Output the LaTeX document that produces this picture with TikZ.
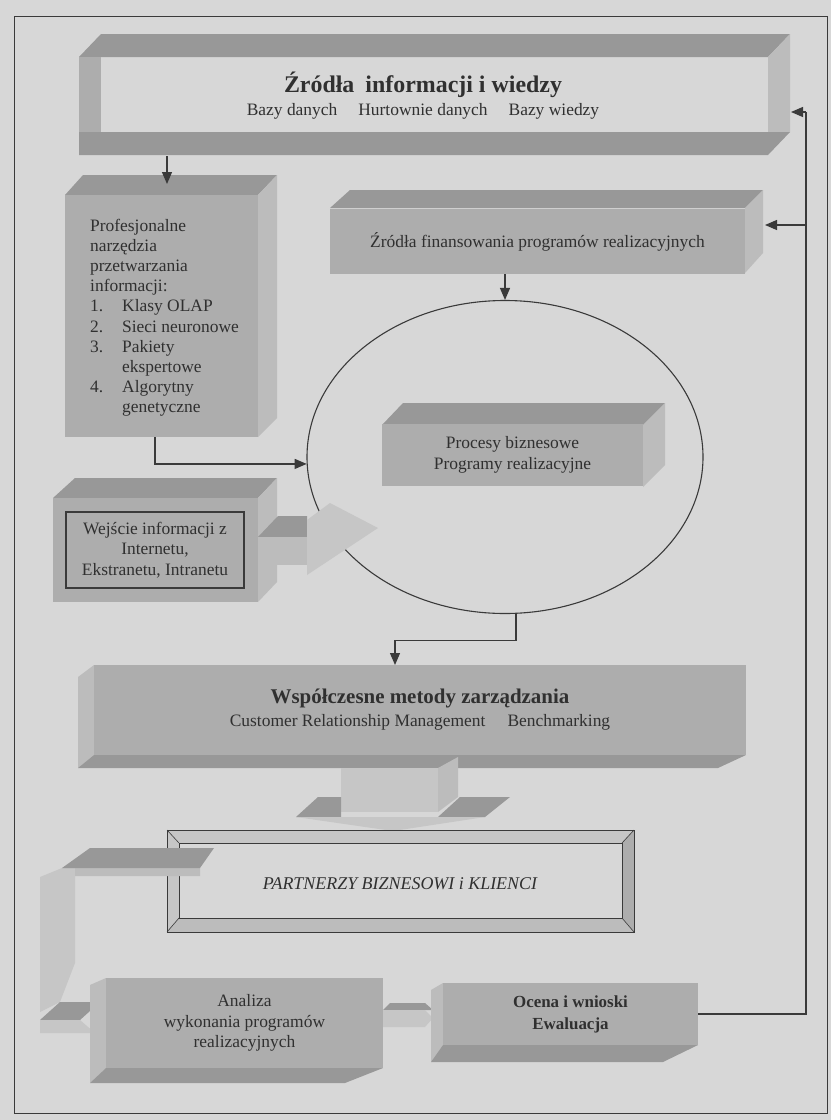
\documentclass[tikz,border=0pt]{standalone}
\usepackage{fontspec}
\setmainfont{Liberation Serif}
\usetikzlibrary{arrows.meta,shapes.geometric}
\definecolor{bgc}{HTML}{D7D7D7}
\definecolor{frontc}{HTML}{ADADAD}
\definecolor{topc}{HTML}{989898}
\definecolor{sidec}{HTML}{BCBCBC}
\definecolor{lightc}{HTML}{C6C6C6}
\definecolor{textc}{HTML}{303030}
\definecolor{inkc}{HTML}{3A3A3A}

\begin{document}
\begin{tikzpicture}[x=1bp,y=-1bp,
    ink/.style={draw=inkc, line width=1.2bp},
    arr/.style={ink, -{Triangle[length=12bp,width=10bp]}},
    topf/.style={fill=topc},
    sidef/.style={fill=sidec},
    lightf/.style={fill=lightc},
    frontf/.style={fill=frontc, inner sep=0pt, outer sep=0pt, align=center, text=textc,
        font=\fontsize{17.5}{20.5}\selectfont},
    txt/.style={inner sep=0pt, align=center, text=textc, font=\fontsize{17.5}{20.5}\selectfont}]

    % 背景と枠
    \fill[bgc] (0,0) rectangle (831,1120);
    \draw[inkc, line width=1bp] (14,16) rectangle (827,1113);

    % 情報源（上の枠）
    \fill[topf] (79,57) -- (101,34) -- (790,34) -- (768,57) -- cycle;
    \fill[sidef] (768,57) -- (790,34) -- (790,132) -- (768,132) -- cycle;
    \fill[frontc] (79,57) rectangle (101,132);
    \fill[topf] (79,132) -- (790,132) -- (768,155) -- (79,155) -- cycle;
    \node[txt, font=\fontsize{17.5}{23}\selectfont] (zrodla) at (423,96)
        {{\bfseries\fontsize{24}{24}\selectfont Źródła\hspace*{11bp}informacji i wiedzy}\\
        Bazy danych\hspace*{21bp}Hurtownie danych\hspace*{21bp}Bazy wiedzy};
    \coordinate (zr-s) at (167,156);
    \coordinate (zr-e) at (791,112);

    % 専門ツール
    \fill[topf] (65,195) -- (83,175) -- (277,175) -- (258,195) -- cycle;
    \fill[sidef] (258,195) -- (277,175) -- (277,418) -- (258,437) -- cycle;
    \node[frontf, minimum width=193bp, minimum height=242bp] (prof) at (161.5,316) {};
    \node[txt, anchor=north west, align=left, font=\fontsize{17.5}{20.2}\selectfont] (proflist) at (90,219)
        {Profesjonalne\\narzędzia\\przetwarzania\\informacji:\\
        \makebox[32bp][l]{1.}Klasy OLAP\\
        \makebox[32bp][l]{2.}Sieci neuronowe\\
        \makebox[32bp][l]{3.}Pakiety\\
        \hspace*{32bp}ekspertowe\\
        \makebox[32bp][l]{4.}Algorytny\\
        \hspace*{32bp}genetyczne};
    \coordinate (prof-n) at (167,184);
    \coordinate (prof-s) at (155,437);

    % 資金源
    \fill[topf] (330,208) -- (350,190) -- (763,190) -- (745,208) -- cycle;
    \fill[sidef] (745,208) -- (763,190) -- (763,253) -- (745,273) -- cycle;
    \node[frontf, minimum width=415bp, minimum height=65bp] (fin) at (537.5,241.5)
        {Źródła finansowania programów realizacyjnych};
    \coordinate (fin-e) at (765,225);

    % 楕円とプロセス
    \node[draw=inkc, line width=1.1bp, ellipse, minimum width=396bp, minimum height=313bp,
        inner sep=0pt] (proc) at (505,457) {};
    \fill[topf] (382,425) -- (403,403) -- (665,403) -- (643,425) -- cycle;
    \fill[sidef] (643,425) -- (665,403) -- (665,465) -- (643,487) -- cycle;
    \node[frontf, minimum width=261bp, minimum height=62bp] (biz) at (512.5,455)
        {Procesy biznesowe\\Programy realizacyjne};

    % インターネット入力
    \fill[topf] (53,498) -- (75,478) -- (277,478) -- (258,498) -- cycle;
    \fill[sidef] (258,498) -- (277,478) -- (277,582) -- (258,602) -- cycle;
    \fill[frontc] (53,498) rectangle (258,602);
    \node[frontf, draw=inkc, line width=1.3bp, minimum width=178bp, minimum height=76bp] (web) at (155,550)
        {Wejście informacji z\\Internetu,\\Ekstranetu, Intranetu};
    % 太い矢印
    \fill[topf] (258,537) -- (278,516) -- (307,516) -- (307,537) -- cycle;
    \fill[sidef] (258,537) rectangle (307,565);
    \fill[lightf] (307,520) -- (330,503) -- (378,528) -- (307,575) -- cycle;

    % 現代的な管理手法
    \fill[sidef] (78,677) -- (94,665) -- (94,755) -- (78,768) -- cycle;
    \fill[topf] (78,768) -- (94,755) -- (746,755) -- (718,768) -- cycle;
    \node[frontf, minimum width=652bp, minimum height=90bp, font=\fontsize{17.5}{23}\selectfont] (wsp) at (420,710)
        {{\bfseries\fontsize{21}{24}\selectfont Współczesne metody zarządzania}\\
        Customer Relationship Management\hspace*{22bp}Benchmarking};
    \coordinate (wsp-n) at (395,665);

    % 下向きの太い矢印
    \fill[sidef] (438,768) -- (458,757) -- (458,797) -- (438,812) -- cycle;
    \fill[lightf] (341,768) rectangle (438,812);
    \fill[topf] (296,817) -- (318,797) -- (341,797) -- (341,817) -- cycle;
    \fill[topf] (438,817) -- (460,797) -- (510,797) -- (485,817) -- cycle;
    \fill[lightf] (296,817) -- (485,817) -- (393,831) -- cycle;

    % パートナー
    \fill[lightc] (167,830) -- (634,830) -- (622,843) -- (179,843) -- cycle;
    \fill[lightc] (167,830) -- (179,843) -- (179,918) -- (167,932) -- cycle;
    \fill[frontc] (634,830) -- (634,932) -- (622,918) -- (622,843) -- cycle;
    \fill[sidef] (167,932) -- (634,932) -- (622,918) -- (179,918) -- cycle;
    \draw[inkc, line width=1bp] (167,830) rectangle (634,932);
    \draw[inkc, line width=1bp] (179,843) rectangle (622,918);
    \draw[inkc, line width=0.6bp] (167,830) -- (179,843) (634,830) -- (622,843)
        (167,932) -- (179,918) (634,932) -- (622,918);
    \node[txt, font=\itshape\fontsize{18}{20}\selectfont] (partner) at (400,884) {PARTNERZY BIZNESOWI i KLIENCI};

    % 曲がった矢印
    \fill[lightf] (40,877) -- (62,868) -- (75,868) -- (75,963) -- (60,1002) -- (40,1012) -- cycle;
    \fill[sidef] (62,868) -- (200,868) -- (200,876) -- (75,876) -- (75,868) -- cycle;
    \fill[topf] (62,868) -- (90,848) -- (214,848) -- (200,868) -- cycle;
    \fill[topf] (40,1020) -- (60,1002) -- (100,1002) -- (80,1020) -- cycle;
    \fill[lightf] (40,1020) -- (80,1020) -- (95,1033) -- (40,1033) -- cycle;

    % 分析と評価
    \fill[sidef] (90,985) -- (106,978) -- (106,1068) -- (90,1083) -- cycle;
    \fill[topf] (90,1083) -- (106,1068) -- (383,1068) -- (345,1083) -- cycle;
    \node[frontf, minimum width=277bp, minimum height=90bp] (analiza) at (244.5,1023)
        {Analiza\\wykonania programów\\realizacyjnych};
    \fill[topf] (383,1010) -- (390,1003) -- (425,1003) -- (433,1010) -- cycle;
    \fill[lightf] (383,1010) -- (425,1010) -- (433,1018) -- (425,1027) -- (383,1027) -- cycle;
    \fill[sidef] (431,990) -- (443,983) -- (443,1045) -- (431,1062) -- cycle;
    \fill[topf] (431,1062) -- (443,1045) -- (698,1045) -- (663,1062) -- cycle;
    \node[frontf, minimum width=255bp, minimum height=62bp, font=\bfseries\fontsize{17}{22}\selectfont] (ocena) at (570.5,1014)
        {Ocena i wnioski\\Ewaluacja};
    \coordinate (ret) at (806,1014);

    % 接続線
    \draw[arr] (zr-s) -- (prof-n);
    \draw[arr] (fin.south -| proc.north) -- (proc.north);
    \draw[arr] (prof-s) |- (proc.182);
    \draw[arr] (proc.274) -- ++(0,27) -| (wsp-n);
    \draw[ink] (ocena.east) -- (ret) -- (ret |- zr-e);
    \draw[arr] (ret |- zr-e) -- (zr-e);
    \draw[arr] (ret |- fin-e) -- (fin-e);
\end{tikzpicture}
\end{document}
